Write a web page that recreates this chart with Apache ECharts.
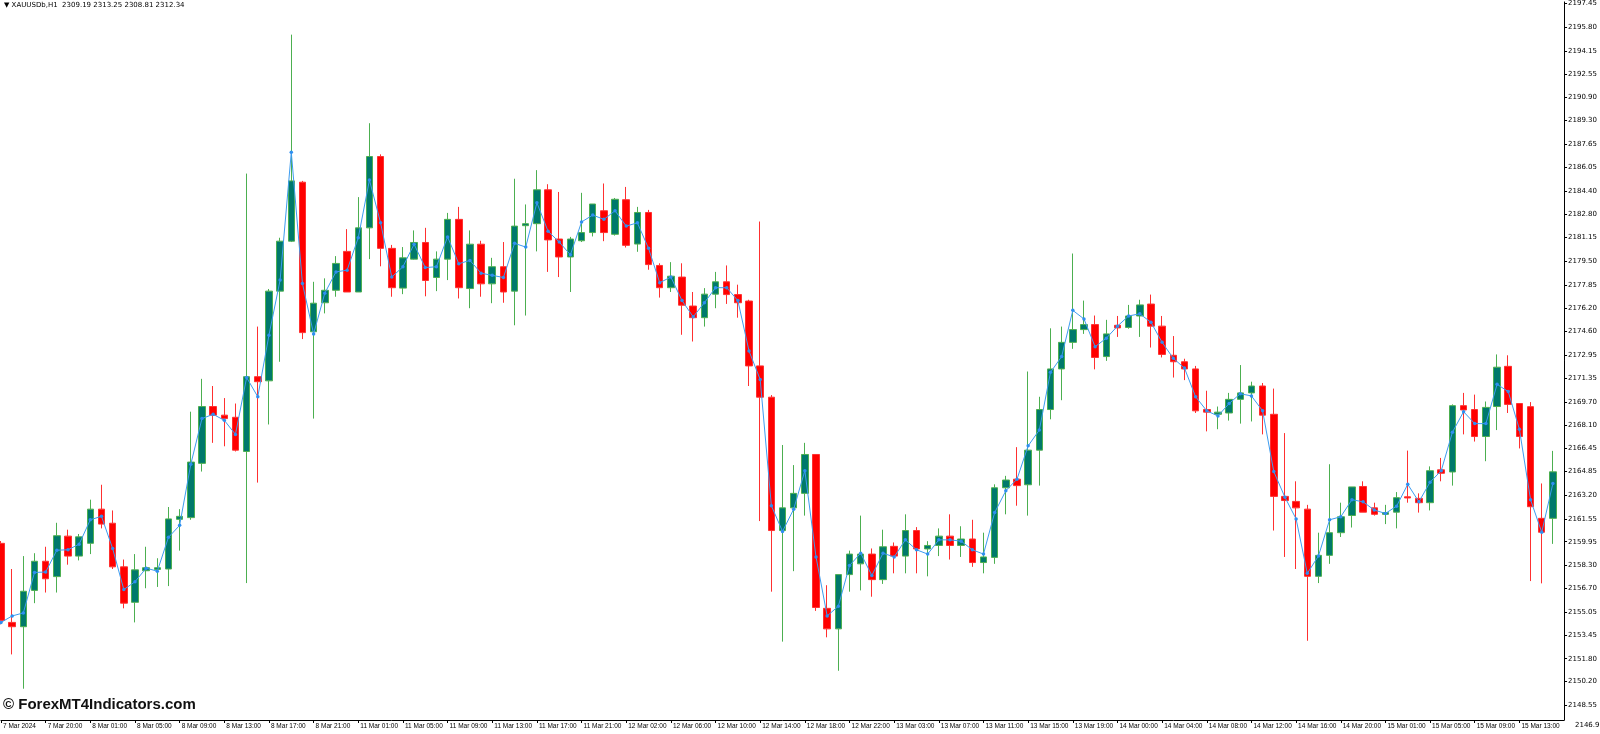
<!DOCTYPE html>
<html><head><meta charset="utf-8">
<script src="https://cdn.jsdelivr.net/npm/echarts@6/dist/echarts.min.js"></script>
<style>html,body{margin:0;padding:0;background:#fff}#c{width:1600px;height:734px}</style>
</head><body><div id="c"></div>
<script>
const opens=[2159.84,2154.33,2154.03,2156.56,2158.59,2157.52,2160.34,2158.95,2159.84,2162.22,2161.24,2158.20,2155.73,2157.93,2158.02,2158.05,2161.51,2161.63,2165.41,2169.37,2168.77,2168.62,2166.24,2171.45,
2171.16,2177.41,2180.89,2185.00,2174.58,2176.60,2177.47,2180.18,2177.35,2181.82,2186.79,2180.39,2177.62,2179.64,2180.80,2178.36,2179.64,2182.41,2177.59,2180.68,2177.92,2179.11,
2177.41,2181.97,2182.11,2184.47,2181.04,2179.79,2180.92,2181.49,2183.01,2181.37,2183.78,2180.69,2182.89,2179.20,2177.65,2178.39,2176.37,2175.56,2177.20,2178.06,2177.17,2176.72,2172.20,
2170.02,2160.73,2162.31,2163.32,2166.03,2155.31,2153.88,2157.66,2158.41,2159.09,2157.31,2159.63,2158.95,2160.73,2159.45,2159.69,2160.34,2159.69,2160.14,2158.50,2158.86,2163.71,2164.31,
2163.92,2166.33,2169.16,2171.99,2173.84,2174.73,2175.08,2172.85,2175.03,2174.88,2175.68,2176.51,2174.97,2172.94,2172.49,2171.99,2169.16,2168.83,2168.92,2169.87,2170.32,2170.80,
2168.83,2163.11,2162.76,2162.22,2157.54,2159.00,2160.58,2161.78,2163.80,2162.31,2161.86,2162.01,2163.08,2162.97,2162.67,2164.96,2164.81,2169.43,2169.16,2167.28,2169.37,2172.17,2169.58,
2169.36,2161.58,2161.58];
const closes=[2154.47,2154.03,2156.50,2158.59,2157.37,2160.37,2158.95,2160.29,2162.22,2161.18,2158.20,2155.67,2157.99,2158.14,2158.14,2161.54,2161.72,2165.50,2169.37,2168.77,2168.53,2166.33,2171.45,2171.10,
2177.41,2180.89,2185.09,2174.52,2176.57,2177.47,2179.34,2177.35,2181.82,2186.79,2180.39,2177.65,2179.73,2180.80,2178.15,2179.64,2182.41,2177.65,2180.68,2177.92,2179.11,2177.35,
2181.94,2182.11,2184.47,2180.98,2179.79,2181.04,2181.49,2183.48,2181.49,2183.81,2180.60,2182.89,2179.26,2177.65,2178.45,2176.43,2175.56,2177.20,2178.06,2177.17,2176.60,2172.20,2170.02,
2160.73,2162.31,2163.32,2166.03,2155.37,2153.88,2157.66,2159.09,2159.09,2157.31,2159.60,2158.95,2160.73,2159.45,2159.69,2160.34,2159.69,2160.14,2158.50,2158.89,2163.71,2164.25,2163.86,
2166.33,2169.16,2171.99,2173.84,2174.73,2175.08,2172.79,2174.43,2174.85,2175.68,2176.45,2174.97,2173.00,2172.49,2171.99,2169.07,2168.98,2168.98,2169.87,2170.32,2170.80,2168.77,
2163.11,2162.82,2162.31,2157.54,2159.00,2160.58,2161.69,2163.77,2162.01,2161.86,2161.98,2163.02,2163.00,2162.67,2164.90,2164.72,2169.43,2169.13,2167.28,2169.31,2172.11,2169.52,2167.28,
2162.39,2160.61,2164.82];
const highs=[2160.00,2158.05,2158.95,2159.15,2159.60,2161.27,2160.79,2160.49,2162.88,2163.92,2162.13,2158.71,2159.09,2159.60,2158.80,2162.37,2162.22,2169.01,2171.30,2170.80,2169.96,2169.58,2185.60,2174.94,
2177.56,2181.13,2195.28,2185.09,2178.06,2178.30,2179.85,2181.73,2183.96,2189.11,2186.94,2180.63,2180.48,2181.64,2181.82,2180.18,2182.86,2183.28,2181.64,2180.92,2179.73,2180.83,
2185.24,2183.45,2185.84,2184.86,2184.32,2181.19,2184.26,2183.48,2184.91,2183.90,2184.67,2183.28,2183.07,2179.35,2179.43,2179.35,2177.35,2177.62,2178.75,2179.20,2177.86,2176.81,2182.26,
2170.17,2166.69,2165.29,2166.84,2166.03,2156.92,2157.66,2159.33,2161.77,2159.48,2160.79,2159.90,2161.86,2160.97,2159.99,2160.88,2161.86,2161.03,2161.48,2160.58,2163.95,2164.54,2166.54,
2171.81,2170.05,2174.82,2174.94,2180.03,2176.75,2175.71,2175.41,2175.68,2176.45,2176.81,2177.17,2175.68,2174.28,2172.70,2172.20,2170.47,2169.37,2170.32,2172.26,2171.10,2171.01,
2170.62,2167.52,2164.16,2162.52,2160.58,2165.35,2162.67,2163.77,2164.16,2162.67,2162.52,2163.41,2166.30,2163.32,2165.20,2165.79,2169.52,2170.32,2170.20,2169.72,2173.00,2172.94,2169.58,
2169.68,2164.01,2166.28];
const lows=[2154.20,2152.10,2149.71,2155.67,2156.41,2156.41,2158.35,2158.65,2159.09,2160.88,2158.05,2155.31,2154.33,2156.71,2156.80,2156.86,2159.33,2161.48,2164.84,2166.84,2166.60,2166.24,2157.07,2164.07,
2168.12,2172.49,2180.83,2174.07,2168.53,2175.86,2177.02,2177.35,2177.35,2179.64,2179.14,2177.02,2177.20,2179.61,2177.05,2177.41,2178.18,2176.90,2176.22,2177.02,2176.57,2176.60,
2175.03,2175.71,2180.18,2178.75,2178.39,2177.35,2180.83,2181.22,2180.89,2181.28,2180.45,2180.15,2178.90,2176.96,2177.35,2174.37,2173.90,2174.94,2176.22,2176.52,2175.56,2170.80,2161.39,
2156.47,2152.99,2157.90,2161.77,2155.13,2153.29,2150.96,2156.47,2156.56,2156.12,2157.01,2157.75,2157.75,2157.75,2157.54,2158.95,2158.71,2158.89,2158.20,2157.75,2158.41,2161.86,2162.46,
2161.77,2163.86,2168.48,2169.81,2173.39,2174.43,2171.96,2172.55,2174.22,2174.79,2174.22,2173.48,2172.79,2171.39,2171.21,2168.92,2167.64,2167.79,2168.39,2168.18,2168.33,2167.43,
2160.73,2158.89,2158.05,2153.05,2157.07,2158.41,2160.28,2160.94,2162.01,2161.77,2161.18,2160.88,2162.67,2161.98,2162.13,2164.16,2163.86,2167.43,2166.93,2165.56,2167.73,2168.92,2166.45,
2157.21,2157.05,2159.80];
const maLine=[2154.33,2154.78,2154.99,2157.81,2157.84,2159.36,2159.39,2159.78,2161.48,2161.72,2159.48,2156.62,2157.16,2158.11,2157.90,2160.26,2161.09,2165.35,2168.53,2168.83,2168.41,2167.43,2171.39,2170.05,
2174.34,2178.18,2187.09,2177.94,2174.43,2177.26,2178.75,2178.87,2181.13,2185.15,2182.17,2178.39,2179.11,2180.68,2179.05,2179.11,2181.19,2179.32,2179.55,2178.66,2178.51,2178.36,
2180.74,2180.48,2183.57,2181.58,2180.83,2179.94,2182.23,2182.71,2182.41,2183.01,2181.94,2182.17,2180.39,2178.00,2178.39,2176.75,2175.62,2176.60,2177.65,2177.65,2176.75,2173.24,2171.25,
2162.46,2160.67,2162.22,2164.90,2158.89,2154.78,2155.46,2158.29,2159.15,2157.60,2159.15,2158.89,2160.08,2159.39,2159.09,2160.08,2160.08,2159.99,2159.39,2159.09,2161.98,2163.50,2164.31,
2166.63,2167.73,2171.75,2172.85,2176.07,2175.47,2173.54,2174.13,2174.97,2175.68,2175.83,2175.24,2173.84,2172.73,2172.05,2170.05,2169.07,2168.71,2169.58,2170.26,2170.11,2169.07,
2164.84,2163.05,2161.54,2157.75,2158.95,2161.48,2161.69,2162.88,2162.73,2162.16,2161.92,2162.43,2163.95,2162.73,2164.10,2164.90,2167.58,2169.01,2168.18,2168.18,2170.92,2170.41,2167.79,
2162.88,2160.61,2164.01];
const tickLabels=['7 Mar 2024','7 Mar 20:00','8 Mar 01:00','8 Mar 05:00','8 Mar 09:00','8 Mar 13:00','8 Mar 17:00','8 Mar 21:00','11 Mar 01:00','11 Mar 05:00','11 Mar 09:00','11 Mar 13:00','11 Mar 17:00','11 Mar 21:00','12 Mar 02:00','12 Mar 06:00','12 Mar 10:00','12 Mar 14:00','12 Mar 18:00','12 Mar 22:00','13 Mar 03:00','13 Mar 07:00','13 Mar 11:00','13 Mar 15:00','13 Mar 19:00','14 Mar 00:00','14 Mar 04:00','14 Mar 08:00','14 Mar 12:00','14 Mar 16:00','14 Mar 20:00','15 Mar 01:00','15 Mar 05:00','15 Mar 09:00','15 Mar 13:00'];
const priceTicks=[2148.55,2150.20,2151.80,2153.45,2155.05,2156.70,2158.30,2159.95,2161.55,2163.20,2164.85,2166.45,2168.10,2169.70,2171.35,2172.95,2174.60,2176.20,2177.85,2179.50,2181.15,2182.80,2184.40,2186.05,2187.65,2189.30,2190.90,2192.55,2194.15,2195.80,2197.45];
const titleText='▼ XAUUSDb,H1  2309.19 2313.25 2308.81 2312.34';

const n=opens.length;
const cats=[];for(let i=0;i<=n;i++)cats.push('');
tickLabels.forEach((t,k)=>{cats[k*4]=t;});
const candle=opens.map((o,i)=>[o,closes[i],lows[i],highs[i]]);
const chart=echarts.init(document.getElementById('c'));
chart.setOption({
 animation:false,backgroundColor:'#fff',
 textStyle:{fontFamily:'DejaVu Sans'},
 grid:{left:0,right:29,top:0,bottom:14},
 xAxis:{type:'category',data:cats,boundaryGap:false,
  axisLine:{lineStyle:{color:'#000',width:1}},
  axisTick:{show:true,length:3,interval:(i)=>cats[i]!=='',lineStyle:{color:'#000'}},
  axisLabel:{interval:(i)=>cats[i]!=='',fontSize:6.5,fontFamily:'Liberation Sans',color:'#000',align:'left',margin:3,padding:[0,0,0,2]},
  splitLine:{show:false}},
 yAxis:{type:'value',position:'right',min:2147.53,max:2197.56,scale:true,
  axisLine:{show:true,lineStyle:{color:'#000'}},
  axisTick:{show:true,length:3,customValues:priceTicks,lineStyle:{color:'#000'}},
  axisLabel:{customValues:priceTicks,fontSize:7,color:'#000',margin:4,formatter:v=>v.toFixed(2)},
  splitLine:{show:false}},
 graphic:[
  {type:'text',left:4,top:2,style:{text:titleText,fontSize:7,fill:'#000',fontFamily:'DejaVu Sans'}},
  {type:'text',left:3,top:697,style:{text:'© ForexMT4Indicators.com',fontSize:15,fontWeight:'bold',fill:'#111',fontFamily:'Liberation Sans'}},
  {type:'text',left:1575,top:722,style:{text:'2146.90',fontSize:7,fill:'#000',fontFamily:'DejaVu Sans'}}
 ],
 series:[
  {type:'candlestick',data:candle,barWidth:7,
   itemStyle:{color:'#00796b',color0:'#ff0000',borderColor:'#4caf50',borderColor0:'#ff3030',borderWidth:1}},
  {type:'line',data:maLine,symbol:'circle',symbolSize:3.5,lineStyle:{color:'#3d9cf0',width:1},itemStyle:{color:'#2f8ff0'}}
 ]
});
</script></body></html>
